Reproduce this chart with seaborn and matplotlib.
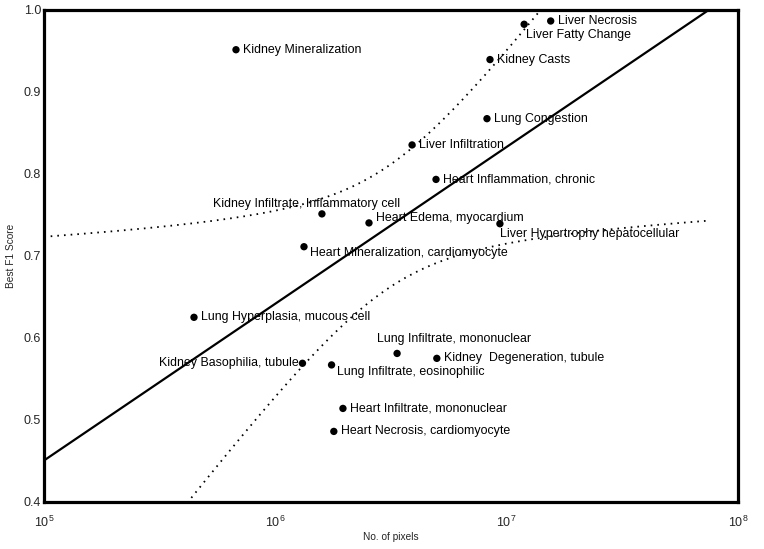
import matplotlib
matplotlib.use("Agg")
import matplotlib.pyplot as plt
import seaborn as sns
import pandas as pd
import numpy as np

# values
lesions = [
    "Kidney Mineralization", "Liver Necrosis", "Liver Fatty Change", "Kidney Casts",
    "Lung Congestion", "Liver Infiltration", "Heart Inflammation, chronic",
    "Kidney Infiltrate, Inflammatory cell", "Heart Edema, myocardium",
    "Heart Mineralization, cardiomyocyte", "Liver Hypertrophy hepatocellular",
    "Lung Hyperplasia, mucous cell", "Kidney Basophilia, tubule",
    "Lung Infiltrate, eosinophilic", "Lung Infiltrate, mononuclear",
    "Kidney  Degeneration, tubule", "Heart Infiltrate, mononuclear",
    "Heart Necrosis, cardiomyocyte",
]
n_pixels = [6.76e5, 1.55e7, 1.19e7, 8.47e6, 8.22e6, 3.90e6, 4.95e6, 1.59e6, 2.54e6,
            1.33e6, 9.35e6, 4.45e5, 1.31e6, 1.75e6, 3.36e6, 4.99e6, 1.96e6, 1.79e6]
best_f1 = [0.951, 0.986, 0.982, 0.939, 0.867, 0.835, 0.793, 0.751, 0.740,
           0.711, 0.739, 0.625, 0.569, 0.567, 0.581, 0.575, 0.514, 0.486]

df = pd.DataFrame({"lesion": lesions, "pixels": n_pixels, "f1": best_f1})

# label placement: (dx px, dy px, ha)
label_pos = {
    "Liver Fatty Change": (2, 11, "left"),
    "Kidney Infiltrate, Inflammatory cell": (-15, -10, "center"),
    "Heart Edema, myocardium": (7, -5, "left"),
    "Heart Mineralization, cardiomyocyte": (6, 6, "left"),
    "Liver Hypertrophy hepatocellular": (0, 10, "left"),
    "Kidney Basophilia, tubule": (-4, 0, "right"),
    "Lung Infiltrate, eosinophilic": (5, 7, "left"),
    "Lung Infiltrate, mononuclear": (-20, -14, "left"),
}

sns.set_style("white")
plt.rcParams["font.family"] = ["Liberation Sans", "DejaVu Sans"]

fig = plt.figure(figsize=(7.64, 5.49), dpi=100)
ax = fig.add_axes([44 / 764, 47 / 549, 694 / 764, 492.5 / 549])

# least squares fit of F1 on log10(pixels) with 95% confidence band
lx = np.log10(df["pixels"].values)
y = df["f1"].values
b1, b0 = np.polyfit(lx, y, 1)
n = len(y)
s = np.sqrt(np.sum((y - (b0 + b1 * lx)) ** 2) / (n - 2))
sxx = np.sum((lx - lx.mean()) ** 2)
t = 2.12
grid = np.linspace(5, 7.88, 300)
fit = b0 + b1 * grid
hw = t * s * np.sqrt(1 / n + (grid - lx.mean()) ** 2 / sxx)

ax.plot(10 ** grid, fit, color="black", lw=1.6)
ax.plot(10 ** grid, fit + hw, color="black", lw=1.3, ls=(0, (0.9, 2.8)))
ax.plot(10 ** grid, fit - hw, color="black", lw=1.3, ls=(0, (0.9, 2.8)))

sns.scatterplot(data=df, x="pixels", y="f1", color="black", s=28, edgecolor="none", ax=ax, zorder=3)

for _, row in df.iterrows():
    dx, dy, ha = label_pos.get(row["lesion"], (7, 0, "left"))
    ax.annotate(row["lesion"], (row["pixels"], row["f1"]), xytext=(dx * 0.72, -dy * 0.72),
                textcoords="offset points", ha=ha, va="center", fontsize=8.9, color="black")

ax.set_xscale("log")
ax.set_xlim(1e5, 1e8)
ax.set_ylim(0.4, 1.0)
ax.set_xticks([1e5, 1e6, 1e7, 1e8])
ax.minorticks_off()
ax.set_yticks([0.4, 0.5, 0.6, 0.7, 0.8, 0.9, 1.0])
ax.set_yticklabels(["0.4", "0.5", "0.6", "0.7", "0.8", "0.9", "1.0"])
ax.tick_params(axis="x", length=0, pad=9, labelsize=9)
ax.tick_params(axis="y", length=0, pad=2, labelsize=9)
for sp in ax.spines.values():
    sp.set_linewidth(2.3)
    sp.set_color("black")

ax.set_xlabel("No. of pixels", fontsize=7.3, labelpad=2)
ax.set_ylabel("Best F1 Score", fontsize=7.3, labelpad=6)

fig.savefig("out.png", dpi=100)
